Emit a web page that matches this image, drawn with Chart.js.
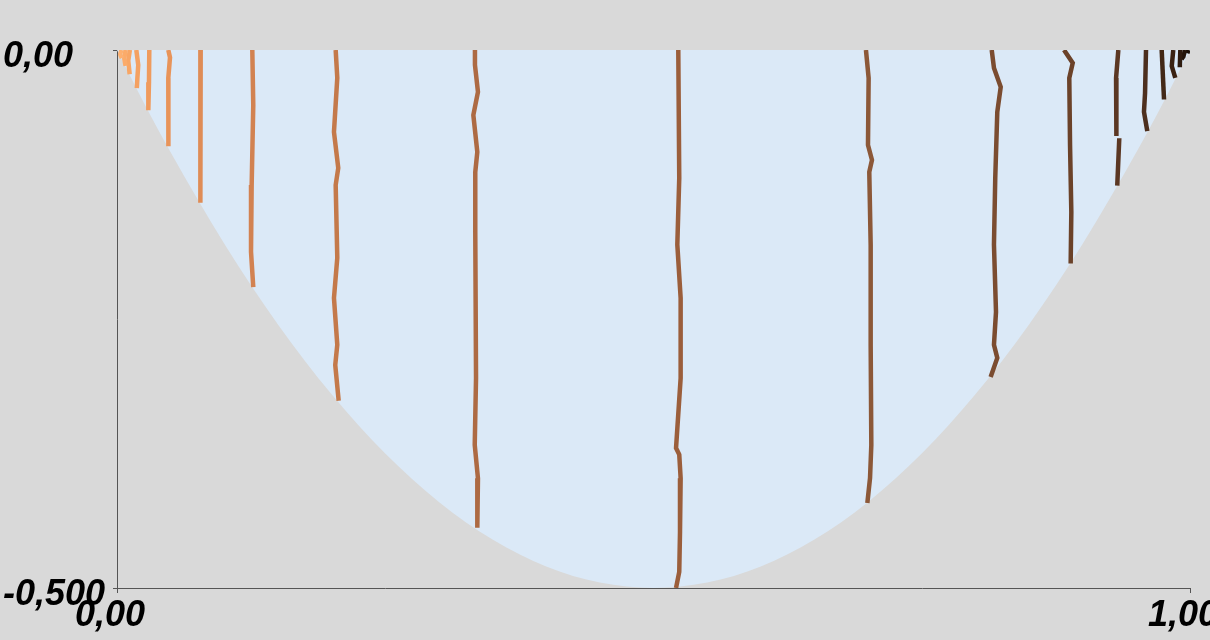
<!DOCTYPE html>
<html>
<head>
<meta charset="utf-8">
<script src="https://cdn.jsdelivr.net/npm/chart.js@4/dist/chart.umd.min.js"></script>
<style>
  html, body { margin: 0; padding: 0; background: #d9d9d9; }
  #wrap { width: 1210px; height: 640px; }
</style>
</head>
<body>
<div id="wrap"><canvas id="c" width="1210" height="640"></canvas></div>
<script>
// Tick values and labels
const xTickValues = [0, 1];
const xTickLabels = ['0,00', '1,00'];
const yTickValues = [-0.5, 0];
const yTickLabels = ['-0,500', '0,00'];

// Domain boundary (lower edge of the shaded region)
const boundaryX = [0, 0.025, 0.05, 0.1, 0.15, 0.2, 0.25, 0.3, 0.35, 0.4, 0.45, 0.5, 0.55, 0.6, 0.65, 0.7, 0.75, 0.8, 0.85, 0.9, 0.95, 0.975, 1];
const boundaryY = [0, -0.049, -0.095, -0.18, -0.255, -0.32, -0.375, -0.42, -0.455, -0.48, -0.495, -0.5, -0.495, -0.48, -0.455, -0.42, -0.375, -0.32, -0.255, -0.18, -0.095, -0.049, 0];

// Contour lines [x, y]
const c01 = [[0.0040, 0], [0.0030, -0.004], [0.0045, -0.0075]];
const c02 = [[0.0080, 0], [0.0068, -0.008], [0.0080, -0.0148]];
const c03 = [[0.0120, 0], [0.0105, -0.010], [0.0118, -0.0225]];
const c04 = [[0.0180, 0], [0.0198, -0.014], [0.0190, -0.026], [0.0185, -0.0355]];
const c05 = [[0.0301, 0], [0.0298, -0.030], [0.0292, -0.056]];
const c06 = [[0.0478, 0], [0.0494, -0.007], [0.0478, -0.026], [0.0480, -0.060], [0.0478, -0.0895]];
const c07 = [[0.0780, 0], [0.0774, -0.050], [0.0777, -0.100], [0.0780, -0.142]];
const c08 = [[0.1261, 0], [0.1270, -0.0511], [0.1255, -0.1255], [0.1249, -0.1877], [0.1270, -0.2203]];
const c09 = [[0.2038, 0], [0.2053, -0.026], [0.2022, -0.0762], [0.2062, -0.1097], [0.2038, -0.1255], [0.2053, -0.1933], [0.2022, -0.2305], [0.2053, -0.274], [0.2034, -0.2928], [0.2066, -0.326]];
const c10 = [[0.3336, 0], [0.3336, -0.0139], [0.3364, -0.039], [0.3321, -0.0604], [0.3358, -0.0948], [0.3339, -0.1134], [0.3339, -0.169], [0.3346, -0.305], [0.3334, -0.367], [0.3364, -0.398], [0.3358, -0.444]];
const c11 = [[0.5231, 0], [0.5240, -0.119], [0.5222, -0.181], [0.5253, -0.2305], [0.5253, -0.305], [0.5210, -0.370], [0.5240, -0.376], [0.5253, -0.398], [0.5247, -0.448], [0.5240, -0.485], [0.5210, -0.5]];
const c12 = [[0.6980, 0], [0.7005, -0.026], [0.6999, -0.0883], [0.7036, -0.1022], [0.7011, -0.1134], [0.7024, -0.1812], [0.7024, -0.2742], [0.7030, -0.3671], [0.7018, -0.3978], [0.6993, -0.421]];
const c13 = [[0.8152, 0], [0.8173, -0.0167], [0.8236, -0.0344], [0.8204, -0.0576], [0.8185, -0.119], [0.8173, -0.181], [0.8192, -0.2435], [0.8173, -0.274], [0.8204, -0.2862], [0.8142, -0.304]];
const c14 = [[0.8826, 0], [0.8907, -0.0121], [0.8875, -0.026], [0.8882, -0.0883], [0.8894, -0.1506], [0.8888, -0.1985]];
const c15 = [[0.9332, 0], [0.9311, -0.026], [0.9317, -0.0762], [0.9311, -0.080], [0.9326, null], [0.9341, -0.082], [0.9322, -0.126]];
const c16 = [[0.9590, 0], [0.9581, -0.040], [0.9571, -0.0576], [0.9602, -0.0755]];
const c17 = [[0.9736, 0], [0.9758, -0.046]];
const c18 = [[0.9844, 0], [0.9830, -0.015], [0.9863, -0.026]];
const c19 = [[0.9910, 0], [0.9905, -0.016]];
const c20 = [[0.9955, 0], [0.9935, -0.007], [0.9950, -0.008]];
const c21 = [[0.9985, 0], [0.9975, -0.003]];

const contours = [c01, c02, c03, c04, c05, c06, c07, c08, c09, c10, c11, c12, c13, c14, c15, c16, c17, c18, c19, c20, c21];
const contourColors = ['#fdb070', '#fbab6a', '#f8a665', '#f4a162', '#ef9b5e', '#e8945a', '#df8c56', '#d28251', '#c4794a', '#ad6a43', '#9b5e3b', '#8c5838', '#7b4c30', '#6b4229', '#5b3723', '#4d2f1e', '#432918', '#3a2213', '#2f1b0f', '#24140a', '#1a0e06'];

const labelFont = { family: '"Liberation Sans", Arial, sans-serif', size: 36, style: 'italic', weight: 'bold' };

const datasets = contours.map((pts, i) => ({
  data: pts,
  borderColor: contourColors[i],
  borderWidth: 4.5,
  pointRadius: 0,
  tension: 0,
  fill: false,
  spanGaps: false,
  order: 0
}));
datasets.push({
  data: boundaryX.map((x, i) => ({ x: x, y: boundaryY[i] })),
  borderWidth: 0,
  borderColor: 'rgba(0,0,0,0)',
  backgroundColor: '#dbe9f7',
  pointRadius: 0,
  cubicInterpolationMode: 'monotone',
  fill: 'end',
  order: 1
});

new Chart(document.getElementById('c'), {
  type: 'line',
  data: { datasets: datasets },
  options: {
    responsive: false,
    animation: false,
    layout: { padding: { left: 3, top: 50, right: 20, bottom: 0 } },
    plugins: { legend: { display: false }, tooltip: { enabled: false } },
    scales: {
      x: {
        type: 'linear', min: 0, max: 1,
        afterBuildTicks: (ax) => { ax.ticks = xTickValues.map(v => ({ value: v })); },
        afterFit: (ax) => { ax.height = 52; ax.paddingLeft = 0; ax.paddingRight = 0; },
        grid: { drawOnChartArea: false, drawTicks: true, tickLength: 5, color: '#555' },
        border: { display: true, color: '#555', width: 1 },
        ticks: {
          autoSkip: false, maxRotation: 0, padding: 1, labelOffset: -7,
          color: '#000', font: labelFont,
          callback: (v) => xTickLabels[xTickValues.indexOf(v)]
        }
      },
      y: {
        type: 'linear', min: -0.5, max: 0,
        afterBuildTicks: (ax) => { ax.ticks = yTickValues.map(v => ({ value: v })); },
        afterFit: (ax) => { ax.width = 114; ax.paddingTop = 0; ax.paddingBottom = 0; },
        grid: { drawOnChartArea: false, drawTicks: true, tickLength: 4, color: '#555' },
        border: { display: true, color: '#555', width: 1 },
        ticks: {
          autoSkip: false, crossAlign: 'far', padding: 2, labelOffset: 7,
          color: '#000', font: labelFont,
          callback: (v) => yTickLabels[yTickValues.indexOf(v)]
        }
      }
    }
  }
});
</script>
</body>
</html>
